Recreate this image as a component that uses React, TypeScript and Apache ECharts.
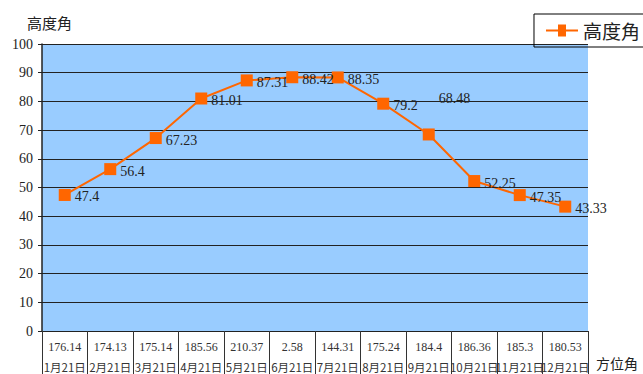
import React, { useEffect, useRef } from "react";
import * as echarts from "echarts";

const dates = ["1月21日", "2月21日", "3月21日", "4月21日", "5月21日", "6月21日", "7月21日", "8月21日", "9月21日", "10月21日", "11月21日", "12月21日"];
const azimuths = ["176.14", "174.13", "175.14", "185.56", "210.37", "2.58", "144.31", "175.24", "184.4", "186.36", "185.3", "180.53"];
const altitudes = [47.4, 56.4, 67.23, 81.01, 87.31, 88.42, 88.35, 79.2, 68.48, 52.25, 47.35, 43.33];
const yTicks = { min: 0, max: 100, interval: 10 };

const SERIF = "Liberation Serif, DejaVu Serif, serif";
const CJK = "Noto Sans CJK TC, Noto Sans CJK SC, sans-serif";

export default function App() {
  const ref = useRef<HTMLDivElement>(null);

  useEffect(() => {
    if (!ref.current) return;
    const chart = echarts.init(ref.current, null, { renderer: "svg" });

    // the September label sits above its point
    const seriesData = altitudes.map((v, i) =>
      i === 8 ? { value: v, label: { offset: [0, -36] } } : { value: v }
    );

    chart.setOption({
      animation: false,
      backgroundColor: "#ffffff",
      grid: {
        left: 42,
        right: 55,
        top: 44,
        bottom: 43,
        show: true,
        backgroundColor: "#99CCFF",
        borderWidth: 0,
      },
      legend: {
        right: -1,
        top: 14,
        orient: "horizontal",
        borderColor: "#000",
        borderWidth: 1,
        padding: [7, 4, 7, 12],
        itemWidth: 32,
        itemHeight: 12,
        itemGap: 6,
        textStyle: { fontFamily: CJK, fontSize: 19, color: "#222" },
        data: [{ name: "高度角", icon: "path://M0,5 L12,5 L12,0 L20,0 L20,5 L32,5 L32,7 L20,7 L20,12 L12,12 L12,7 L0,7 Z" }],
      },
      xAxis: {
        type: "category",
        data: dates,
        boundaryGap: true,
        axisLine: { show: true, lineStyle: { color: "#222", width: 1 } },
        axisTick: { show: true, length: 44, interval: 0, lineStyle: { color: "#333", width: 1 } },
        axisLabel: {
          interval: 0,
          margin: 6,
          formatter: (value: string, idx: number) => `{a|${azimuths[idx]}}\n{b|${value}}`,
          rich: {
            a: { fontFamily: SERIF, fontSize: 12, color: "#333", lineHeight: 20 },
            b: { fontFamily: CJK, fontSize: 11.5, color: "#333", lineHeight: 19 },
          },
        },
      },
      yAxis: {
        type: "value",
        min: yTicks.min,
        max: yTicks.max,
        interval: yTicks.interval,
        axisLine: { show: true, lineStyle: { color: "#222", width: 1.5 } },
        axisTick: { show: true, length: 4, lineStyle: { color: "#222" } },
        axisLabel: { fontFamily: SERIF, fontSize: 14, color: "#222", margin: 9 },
        splitLine: { show: true, lineStyle: { color: "#222", width: 1 } },
      },
      graphic: [
        {
          type: "text",
          left: 27,
          top: 15,
          style: { text: "高度角", fontFamily: CJK, fontSize: 15, fill: "#222" },
        },
        {
          type: "text",
          left: 596,
          top: 356,
          style: { text: "方位角", fontFamily: CJK, fontSize: 14, fill: "#222" },
        },
      ],
      series: [
        {
          name: "高度角",
          type: "line",
          data: seriesData,
          symbol: "rect",
          symbolSize: 12,
          itemStyle: { color: "#FF6600" },
          lineStyle: { color: "#FF6600", width: 2 },
          label: {
            show: true,
            position: "right",
            distance: 4,
            offset: [0, 2],
            fontFamily: SERIF,
            fontSize: 14,
            color: "#222",
          },
        },
      ],
    });

    return () => chart.dispose();
  }, []);

  return (
    <div
      ref={ref}
      style={{ position: "fixed", left: 0, top: 0, width: 643, height: 374 }}
    />
  );
}
